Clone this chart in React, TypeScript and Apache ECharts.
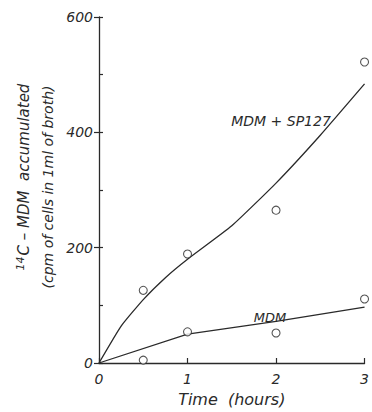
import React, { useEffect, useRef } from "react";
import * as echarts from "echarts";

const hoursTicks = [0, 1, 2, 3];
const countTicks = [0, 200, 400, 600];

// Fitted curves
const sp127CurveT = [0, 0.25, 0.5, 0.75, 1, 1.5, 2, 2.5, 3];
const sp127CurveV = [0, 64, 110, 148, 180, 238, 312, 395, 484];
const mdmCurveT = [0, 1, 2, 3];
const mdmCurveV = [0, 50, 72, 97];

// Observed points
const sp127ObsT = [0.5, 1, 2, 3];
const sp127ObsV = [126, 189, 265, 522];
const mdmObsT = [0.5, 1, 2, 3];
const mdmObsV = [5, 54, 52, 111];

const INK = "#2a2a2a";
const FONT = "'DejaVu Sans', 'Liberation Sans', sans-serif";

const zip = (a: number[], b: number[]) => a.map((x, i) => [x, b[i]]);

export default function App() {
  const ref = useRef<HTMLDivElement>(null);
  useEffect(() => {
    document.body.style.margin = "0";
    if (!ref.current) return;
    const chart = echarts.init(ref.current, undefined, { renderer: "svg" });
    const labelStyle = {
      color: INK,
      fontFamily: FONT,
      fontStyle: "italic" as const,
      fontSize: 13,
    };
    chart.setOption({
      animation: false,
      backgroundColor: "#fff",
      grid: { left: 99, right: 4, top: 17, bottom: 39 },
      xAxis: {
        type: "value",
        min: hoursTicks[0],
        max: hoursTicks[hoursTicks.length - 1],
        interval: 1,
        splitLine: { show: false },
        axisLine: { lineStyle: { color: INK, width: 1.3 } },
        axisTick: { inside: true, length: 5, lineStyle: { color: INK, width: 1.2 } },
        axisLabel: { ...labelStyle, fontSize: 14, margin: 9, showMaxLabel: true },
        name: "Time  (hours)",
        nameLocation: "middle",
        nameGap: 28,
        nameTextStyle: { ...labelStyle, fontSize: 16 },
      },
      yAxis: [
        {
          type: "value",
          min: countTicks[0],
          max: countTicks[countTicks.length - 1],
          interval: 200,
          splitLine: { show: false },
          axisLine: { show: true, lineStyle: { color: INK, width: 1.3 } },
          axisTick: { show: true, length: 5, lineStyle: { color: INK, width: 1.2 } },
          axisLabel: { ...labelStyle, fontSize: 14, margin: 6 },
        },
        {
          type: "value",
          min: 0,
          max: 600,
          interval: 100,
          position: "left",
          splitLine: { show: false },
          axisLine: { show: false },
          axisTick: { show: true, inside: true, length: 4, lineStyle: { color: INK, width: 1.2 } },
          axisLabel: { show: false },
        },
      ],
      series: [
        {
          type: "line",
          name: "MDM + SP127 fit",
          data: zip(sp127CurveT, sp127CurveV),
          smooth: 0.15,
          showSymbol: false,
          lineStyle: { color: INK, width: 1.3 },
          z: 2,
        },
        {
          type: "line",
          name: "MDM fit",
          data: zip(mdmCurveT, mdmCurveV),
          smooth: false,
          showSymbol: false,
          lineStyle: { color: INK, width: 1.3 },
          z: 2,
        },
        {
          type: "scatter",
          name: "MDM + SP127",
          data: zip(sp127ObsT, sp127ObsV),
          symbol: "circle",
          symbolSize: 8,
          itemStyle: { color: "#fff", borderColor: INK, borderWidth: 1.1 },
          z: 3,
        },
        {
          type: "scatter",
          name: "MDM",
          data: zip(mdmObsT, mdmObsV),
          symbol: "circle",
          symbolSize: 8,
          itemStyle: { color: "#fff", borderColor: INK, borderWidth: 1.1 },
          z: 3,
        },
      ],
      graphic: [
        {
          type: "text",
          x: 281,
          y: 121,
          style: {
            text: "MDM + SP127",
            fill: INK,
            font: `italic 14px ${FONT}`,
            align: "center",
            verticalAlign: "middle",
          },
        },
        {
          type: "text",
          x: 270,
          y: 317,
          style: {
            text: "MDM",
            fill: INK,
            font: `italic 13px ${FONT}`,
            align: "center",
            verticalAlign: "middle",
          },
        },
        {
          type: "text",
          x: 24,
          y: 177,
          rotation: Math.PI / 2,
          style: {
            text: "{sup|14}C – MDM  accumulated",
            fill: INK,
            font: `italic 15px ${FONT}`,
            align: "center",
            verticalAlign: "middle",
            rich: {
              sup: {
                fontSize: 11,
                fontStyle: "italic",
                fontFamily: FONT,
                fill: INK,
                verticalAlign: "top",
                padding: [0, 1, 8, 0],
              },
            },
          },
        },
        {
          type: "text",
          x: 48,
          y: 187,
          rotation: Math.PI / 2,
          style: {
            text: "(cpm of cells in 1ml of broth)",
            fill: INK,
            font: `italic 14px ${FONT}`,
            align: "center",
            verticalAlign: "middle",
          },
        },
      ],
    });
    return () => chart.dispose();
  }, []);
  return <div ref={ref} style={{ width: 372, height: 412 }} />;
}
